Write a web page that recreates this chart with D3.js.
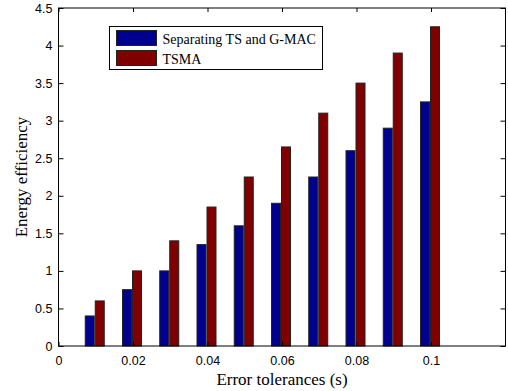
<!DOCTYPE html>
<html>
<head>
<meta charset="utf-8">
<script src="https://cdn.jsdelivr.net/npm/d3@7"></script>
<style>
  body { margin: 0; background: #fff; overflow: hidden; }
  svg { display: block; }
</style>
</head>
<body>
<div id="chart"></div>
<script>
// data
const tolerances = [0.01, 0.02, 0.03, 0.04, 0.05, 0.06, 0.07, 0.08, 0.09, 0.1];
const separatingTS = [0.4, 0.75, 1.0, 1.35, 1.6, 1.9, 2.25, 2.6, 2.9, 3.25];
const tsma = [0.6, 1.0, 1.4, 1.85, 2.25, 2.65, 3.1, 3.5, 3.9, 4.25];
const seriesNames = ["Separating TS and G-MAC", "TSMA"];
const xTicks = [0, 0.02, 0.04, 0.06, 0.08, 0.1];
const yTicks = [0, 0.5, 1, 1.5, 2, 2.5, 3, 3.5, 4, 4.5];

const width = 508, height = 391;
const margin = { top: 8, right: 2.5, bottom: 45, left: 58.5 };
const innerWidth = width - margin.left - margin.right;
const innerHeight = height - margin.top - margin.bottom;

const colors = ["#00008f", "#800000"];

const svg = d3.select("#chart")
  .append("svg")
  .attr("width", width)
  .attr("height", height);

const g = svg.append("g")
  .attr("transform", `translate(${margin.left},${margin.top})`);

const xScale = d3.scaleLinear().domain([0, 0.12]).range([0, innerWidth]);
const yScale = d3.scaleLinear().domain([0, 4.5]).range([innerHeight, 0]);

// bars
const barW = 9;
const series = [separatingTS, tsma];
series.forEach((vals, si) => {
  g.selectAll(null)
    .data(vals)
    .enter()
    .append("rect")
    .attr("x", (d, i) => xScale(tolerances[i]) + (si === 0 ? -10.5 : -0.5))
    .attr("y", (d) => yScale(d))
    .attr("width", barW)
    .attr("height", (d) => innerHeight - yScale(d))
    .attr("fill", colors[si])
    .attr("stroke", "#222")
    .attr("stroke-width", 1);
});

// axes
const fmt = (d) => (d === 0 ? "0" : d3.format("~g")(d));
const tickFont = "Liberation Sans, Arial, sans-serif";

const xAxis = d3.axisBottom(xScale).tickValues(xTicks).tickSize(-4).tickPadding(10).tickFormat(fmt);
const yAxis = d3.axisLeft(yScale).tickValues(yTicks).tickSize(-5).tickPadding(6).tickFormat(fmt);

const gx = g.append("g").attr("transform", `translate(0,${innerHeight})`).call(xAxis);
const gy = g.append("g").call(yAxis);

// top and right ticks (mirror)
g.append("g").call(d3.axisTop(xScale).tickValues(xTicks).tickSize(-4).tickFormat(""));
g.append("g").attr("transform", `translate(${innerWidth},0)`)
  .call(d3.axisRight(yScale).tickValues(yTicks).tickSize(-5).tickFormat(""));

g.selectAll(".domain").remove();
g.selectAll(".tick line").attr("stroke", "#000");
[gx, gy].forEach((a) => a.selectAll("text")
  .attr("fill", "#000")
  .style("font-family", tickFont)
  .style("font-size", "12.5px"));

// frame
g.append("rect")
  .attr("width", innerWidth)
  .attr("height", innerHeight)
  .attr("fill", "none")
  .attr("stroke", "#000")
  .attr("stroke-width", 1);

// axis labels
const serif = "Liberation Serif, Times New Roman, serif";
svg.append("text")
  .attr("x", margin.left + innerWidth / 2)
  .attr("y", 385)
  .attr("text-anchor", "middle")
  .style("font-family", serif)
  .style("font-size", "17px")
  .text("Error tolerances (s)");

svg.append("text")
  .attr("transform", `translate(27,${margin.top + innerHeight / 2}) rotate(-90)`)
  .attr("text-anchor", "middle")
  .style("font-family", serif)
  .style("font-size", "17px")
  .text("Energy efficiency");

// legend
const legend = svg.append("g").attr("transform", "translate(109.5,26.5)");
legend.append("rect")
  .attr("width", 213)
  .attr("height", 43)
  .attr("fill", "#fff")
  .attr("stroke", "#000");

seriesNames.forEach((name, i) => {
  const row = legend.append("g").attr("transform", `translate(7,${4 + i * 20})`);
  row.append("rect")
    .attr("width", 40)
    .attr("height", 15)
    .attr("fill", colors[i])
    .attr("stroke", "#222");
  row.append("text")
    .attr("x", 46)
    .attr("y", 13)
    .style("font-family", serif)
    .style("font-size", "14px")
    .text(name);
});
</script>
</body>
</html>
